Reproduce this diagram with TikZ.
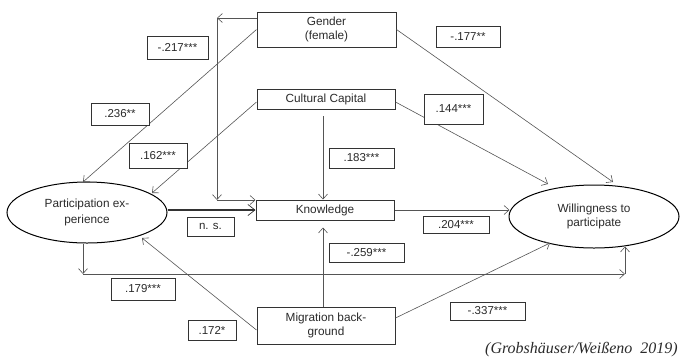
\documentclass[tikz,border=0pt]{standalone}
\usepackage{fontspec}
\setmainfont{Liberation Sans}
\newfontfamily\capfont{Liberation Serif}
\usetikzlibrary{arrows.meta,shapes.geometric}
\definecolor{linec}{HTML}{555555}
\definecolor{boxc}{HTML}{333333}
\definecolor{txtc}{HTML}{2A2A2A}
\begin{document}
\begin{tikzpicture}[x=1pt,y=-1pt,
  arr/.style={draw=linec, line width=0.6pt, -{Straight Barb[length=5pt,width=9pt,line width=0.6pt]}},
  vbox/.style={draw=boxc, line width=1pt, rectangle, inner sep=0pt, text=txtc, align=center,
     font=\fontsize{11.8}{14.5}\selectfont},
  vell/.style={draw=black, line width=1pt, ellipse, inner sep=0pt, text=txtc, align=center,
     font=\fontsize{11.8}{15.5}\selectfont},
  lbl/.style={draw=boxc, line width=0.9pt, rectangle, inner sep=0pt, fill=white, text=txtc,
     font=\fontsize{11.5}{13}\selectfont}]
\useasboundingbox (0,0) rectangle (680,360);
% variables
\node[vbox, minimum width=139pt, minimum height=35pt] (gender) at (326.5,29.5) {Gender\\(female)};
\node[vbox, minimum width=138pt, minimum height=20pt] (cc) at (326,99) {Cultural Capital};
\node[vbox, minimum width=138pt, minimum height=20pt] (know) at (325,210) {Knowledge};
\node[vbox, minimum width=138pt, minimum height=37pt] (mig) at (326,325.5) {Migration back-\\ground};
\node[vell, minimum width=160pt, minimum height=61pt] (pe) at (87,212.5) {Participation ex-\\perience};
\node[vell, minimum width=170pt, minimum height=63pt] (wp) at (594,216.5) {\raisebox{-4pt}{\begin{tabular}{@{}c@{}}Willingness to\\[-1.5pt]participate\end{tabular}}};
% corner and tip coordinates
\coordinate (g1) at (217,18);
\coordinate (g2) at (217,200);
\coordinate (c1) at (323,116);
\coordinate (p1) at (83,274);
\coordinate (p2) at (625,274);
\coordinate (tgpe) at (83,182);
\coordinate (tcpe) at (152,193);
\coordinate (tmpe) at (142,238);
\coordinate (tgwp) at (613,182);
\coordinate (tcwp) at (548,184);
\coordinate (tmwp) at (550,243);
% connectors
\draw[arr] (g1 -| gender.west) -- (g1);
\draw[arr] (g1) -- (g2);
\draw[arr] (g2) -- (g2 -| know.west);
\draw[arr] (c1) -- (c1 |- know.north);
\draw[arr] (mig.north -| c1) -- ([yshift=-7pt]know.south -| c1);
\draw[draw=boxc, line width=1.6pt, -{Straight Barb[length=7pt,width=11pt,line width=0.7pt]}] (pe.east |- know.west) -- (know.west);
\draw[arr] (know.east) -- ([xshift=1pt]wp.west |- know.east);
\draw[arr] (p1 |- pe.south) -- (p1);
\draw[arr] (p1) -- (p2);
\draw[arr] (p2) -- ([yshift=2pt]p2 |- wp.south);
\draw[arr] (gender.west) -- (tgpe);
\draw[arr] ([yshift=-3pt]cc.west) -- (tcpe);
\draw[arr] ([yshift=-4.5pt]mig.west) -- (tmpe);
\draw[arr] (gender.east) -- (tgwp);
\draw[arr] ([yshift=-3pt]cc.east) -- (tcwp);
\draw[arr] ([yshift=7.5pt]mig.east) -- (tmwp);
% coefficient labels
\node[lbl, minimum width=61pt, minimum height=23pt] (l217) at (177.5,47.5) {-.217***};
\node[lbl, minimum width=58pt, minimum height=22pt] (l236) at (120,114) {.236**};
\node[lbl, minimum width=58pt, minimum height=25pt] (l162) at (158,155.5) {.162***};
\node[lbl, minimum width=64pt, minimum height=21pt] (l177) at (468,36.5) {-.177**};
\node[lbl, minimum width=59pt, minimum height=30pt] (l144) at (453.5,109) {.144***};
\node[lbl, minimum width=65pt, minimum height=20pt] (l183) at (361.5,158) {.183***};
\node[lbl, minimum width=47pt, minimum height=19pt] (lns) at (210.5,226.5) {n. s.};
\node[lbl, minimum width=66pt, minimum height=16.5pt] (l204) at (456,225) {.204***};
\node[lbl, minimum width=75pt, minimum height=19pt] (l259) at (366.5,252.5) {-.259***};
\node[lbl, minimum width=64pt, minimum height=22pt] (l179) at (143,289) {.179***};
\node[lbl, minimum width=48pt, minimum height=20pt] (l172) at (212,330) {.172*};
\node[lbl, minimum width=75pt, minimum height=18pt] (l337) at (487.5,311) {-.337***};
% source
\node[anchor=east, inner sep=0pt, text=txtc, font=\capfont\itshape\fontsize{16}{18}\selectfont] (src) at (678,350) {(Grobshäuser/Weißeno\ \ 2019)};
\end{tikzpicture}
\end{document}
